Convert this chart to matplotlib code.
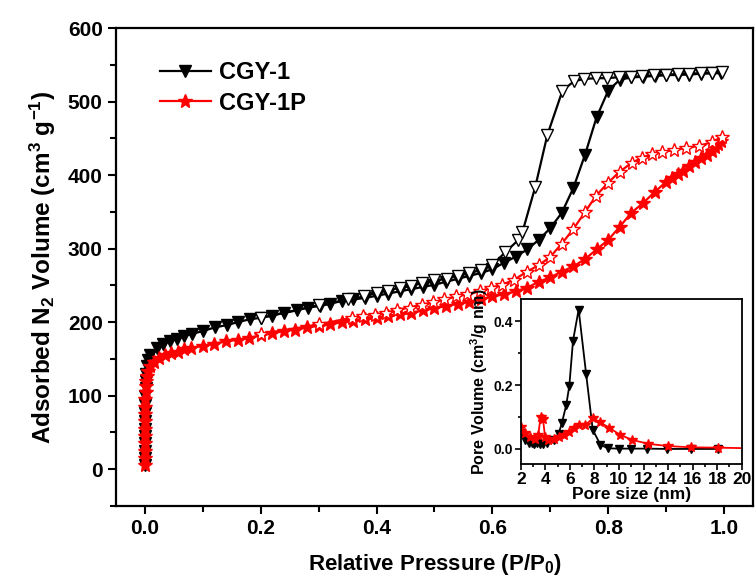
import matplotlib
matplotlib.use('Agg')
import matplotlib.pyplot as plt
from matplotlib.ticker import MultipleLocator

plt.rcParams['font.family'] = ['Liberation Sans', 'DejaVu Sans']
plt.rcParams['font.weight'] = 'bold'
plt.rcParams['mathtext.fontset'] = 'custom'
plt.rcParams['mathtext.rm'] = 'Liberation Sans:bold'
plt.rcParams['mathtext.it'] = 'Liberation Sans:bold'
plt.rcParams['mathtext.bf'] = 'Liberation Sans:bold'

# CGY-1 adsorption (filled)
p_ads1 = [0.00002, 0.00004, 0.00006, 0.0001, 0.00015, 0.0002, 0.0003, 0.0004, 0.0006, 0.0008,
          0.001, 0.0015, 0.002, 0.003, 0.005, 0.009, 0.02, 0.031, 0.043, 0.055, 0.068, 0.081,
          0.1, 0.121, 0.141, 0.16, 0.181, 0.2, 0.22, 0.241, 0.262, 0.281, 0.302, 0.32, 0.34,
          0.36, 0.38, 0.4, 0.42, 0.44, 0.46, 0.48, 0.5, 0.52, 0.54, 0.56, 0.58, 0.6, 0.62, 0.64,
          0.66, 0.68, 0.7, 0.72, 0.74, 0.76, 0.78, 0.8, 0.82, 0.84, 0.86, 0.88, 0.9, 0.92, 0.94,
          0.96, 0.98, 0.995]
v_ads1 = [6, 15, 25, 35, 45, 55, 66, 77, 88, 99, 110, 120, 130, 140, 148, 156, 165, 170, 174,
          177, 181, 184, 188, 193, 196, 200, 204, 206, 209, 213, 216, 220, 222, 225, 229, 231,
          233, 236, 239, 242, 245, 248, 251, 255, 259, 263, 267, 272, 281, 289, 299, 312, 328,
          349, 383, 428, 479, 515, 530, 533, 534, 535, 536, 536.5, 537, 538, 538.5, 539]
# CGY-1 desorption (open)
p_des1 = [0.2, 0.3, 0.35, 0.379, 0.4, 0.419, 0.44, 0.46, 0.479, 0.5, 0.521, 0.54, 0.56, 0.581,
          0.6, 0.622, 0.645, 0.652, 0.674, 0.695, 0.721, 0.741, 0.759, 0.779, 0.798, 0.819,
          0.84, 0.859, 0.879, 0.9, 0.92, 0.94, 0.96, 0.979, 0.997]
v_des1 = [206, 223, 231, 235, 240, 243, 247, 249, 254, 257, 259, 263, 267, 271, 278, 295, 312,
          323, 384, 455, 515, 528, 531, 532, 532, 533.5, 534, 535, 536, 537, 537.5, 538, 539,
          539.5, 541]
# CGY-1P adsorption (filled)
p_ads2 = [0.00002, 0.00004, 0.00006, 0.0001, 0.00015, 0.0002, 0.0003, 0.0004, 0.0006, 0.0008,
          0.001, 0.0015, 0.002, 0.003, 0.005, 0.009, 0.015, 0.025, 0.035, 0.045, 0.057, 0.068,
          0.08, 0.1, 0.12, 0.14, 0.16, 0.18, 0.2, 0.22, 0.24, 0.26, 0.28, 0.3, 0.32, 0.34, 0.36,
          0.38, 0.4, 0.42, 0.44, 0.46, 0.48, 0.5, 0.52, 0.54, 0.56, 0.58, 0.6, 0.62, 0.64, 0.66,
          0.68, 0.7, 0.72, 0.74, 0.76, 0.78, 0.8, 0.82, 0.84, 0.86, 0.88, 0.9, 0.91, 0.92, 0.93,
          0.94, 0.95, 0.96, 0.97, 0.98, 0.985, 0.99, 0.995]
v_ads2 = [6, 15, 25, 35, 45, 55, 65, 75, 85, 95, 105, 113, 120, 127, 133, 140, 146, 151, 155,
          158, 160, 163, 165, 168, 171, 174, 176, 179, 182, 185, 188, 190, 193, 195, 197, 200,
          202, 204, 206, 208, 211, 213, 216, 219, 222, 225, 228, 231, 235, 238, 242, 247, 255,
          261, 269, 276, 286, 299, 312, 330, 349, 362, 377, 391, 396, 401, 406, 412, 418, 423,
          428, 433, 438, 442, 447]
# CGY-1P desorption (open)
p_des2 = [0.2, 0.3, 0.357, 0.376, 0.397, 0.417, 0.436, 0.457, 0.478, 0.497, 0.517, 0.538,
          0.557, 0.578, 0.598, 0.617, 0.638, 0.66, 0.681, 0.7, 0.72, 0.74, 0.76, 0.779, 0.8,
          0.82, 0.841, 0.859, 0.876, 0.893, 0.914, 0.934, 0.957, 0.979, 0.997]
v_des2 = [184, 197, 206, 208, 210, 213, 217, 220, 224, 227, 231, 235, 238, 242, 247, 251, 258,
          269, 278, 289, 307, 327, 350, 372, 390, 405, 417, 424, 429, 432, 434, 437, 440, 445,
          452]

# inset: pore size distribution
d1 = [2.05, 2.35, 2.65, 2.88, 3.1, 3.29, 3.56, 3.84, 4.16, 4.66, 5.07, 5.34, 5.7, 5.95, 6.25,
      6.71, 7.32, 7.86, 8.49, 9.1, 10.0, 11.0, 12.3, 13.9, 15.9, 18.1]
pv1 = [0.051, 0.027, 0.02, 0.018, 0.017, 0.018, 0.015, 0.016, 0.018, 0.028, 0.047, 0.081,
       0.138, 0.198, 0.339, 0.437, 0.235, 0.06, 0.013, 0.002, 0.001, 0.001, 0.001, 0.0, 0.0, 0.0]
d2 = [2.05, 2.33, 2.74, 3.15, 3.42, 3.6, 3.8, 3.97, 4.25, 4.66, 5.07, 5.48, 5.9, 6.3, 6.71,
      7.26, 7.86, 8.49, 9.18, 10.1, 11.1, 12.4, 14.0, 15.9, 18.1, 20.8]
pv2 = [0.07, 0.049, 0.039, 0.03, 0.044, 0.10, 0.094, 0.039, 0.028, 0.03, 0.036, 0.044, 0.054,
       0.065, 0.075, 0.075, 0.096, 0.083, 0.067, 0.044, 0.028, 0.016, 0.009, 0.005, 0.004, 0.002]

fig = plt.figure(figsize=(7.56, 5.88), dpi=100)
ax = fig.add_axes([0.1534, 0.1395, 0.8426, 0.8125])

ax.plot(p_ads1, v_ads1, color='k', lw=1.6, marker='v', ms=8.5, mfc='k', mec='k', label='CGY-1', zorder=3)
ax.plot(p_des1, v_des1, color='k', lw=1.6, marker='v', ms=8.5, mfc='white', mec='k', zorder=4)
ax.plot(p_ads2, v_ads2, color='red', lw=1.6, marker='*', ms=10, mfc='red', mec='red', label='CGY-1P', zorder=5)
ax.plot(p_des2, v_des2, color='red', lw=1.6, marker='*', ms=10, mfc='white', mec='red', zorder=6)

ax.set_xlim(-0.05, 1.05)
ax.set_ylim(-50, 600)
ax.xaxis.set_major_locator(MultipleLocator(0.2))
ax.xaxis.set_minor_locator(MultipleLocator(0.1))
ax.yaxis.set_major_locator(MultipleLocator(100))
ax.yaxis.set_minor_locator(MultipleLocator(50))
ax.tick_params(which='both', direction='out', width=1.5, labelsize=15, top=False, right=False)
ax.tick_params(which='major', length=6)
ax.tick_params(which='minor', length=4)
for s in ax.spines.values():
    s.set_linewidth(1.6)
ax.set_xlabel('Relative Pressure (P/P$_0$)', fontsize=16, fontweight='bold', labelpad=10)
ax.set_ylabel('Adsorbed N$_2$ Volume (cm$^3$ g$^{-1}$)', fontsize=17.5, fontweight='bold', labelpad=7)
ax.legend(loc='upper left', bbox_to_anchor=(0.035, 0.975), frameon=False,
          handlelength=2.2, handletextpad=0.3, labelspacing=0.3, prop={'size': 17, 'weight': 'bold'})

ins = fig.add_axes([0.689, 0.211, 0.292, 0.281])
ins.plot(d1, pv1, color='k', lw=1.3, marker='v', ms=6, mfc='k', mec='k')
ins.plot(d2, pv2, color='red', lw=1.3, marker='*', ms=7, mfc='red', mec='red')
ins.set_xlim(2, 20)
ins.set_ylim(-0.047, 0.471)
ins.xaxis.set_major_locator(MultipleLocator(2))
ins.xaxis.set_minor_locator(MultipleLocator(1))
ins.yaxis.set_minor_locator(MultipleLocator(0.1))
ins.set_yticks([0.0, 0.2, 0.4])
ins.set_yticklabels(['0.0', '0.2', '0.4'])
ins.tick_params(which='both', direction='out', width=1.2, top=False, right=False)
ins.tick_params(axis='x', labelsize=12.5, pad=2)
ins.tick_params(axis='y', labelsize=10, pad=2)
ins.tick_params(which='major', length=4)
ins.tick_params(which='minor', length=2.5)
for s in ins.spines.values():
    s.set_linewidth(1.3)
ins.set_xlabel('Pore size (nm)', fontsize=12.5, fontweight='bold', labelpad=0)
ins.set_ylabel('Pore Volume (cm$^3$/g nm)', fontsize=11.5, fontweight='bold', labelpad=2)

fig.savefig('out.png', dpi=100)
